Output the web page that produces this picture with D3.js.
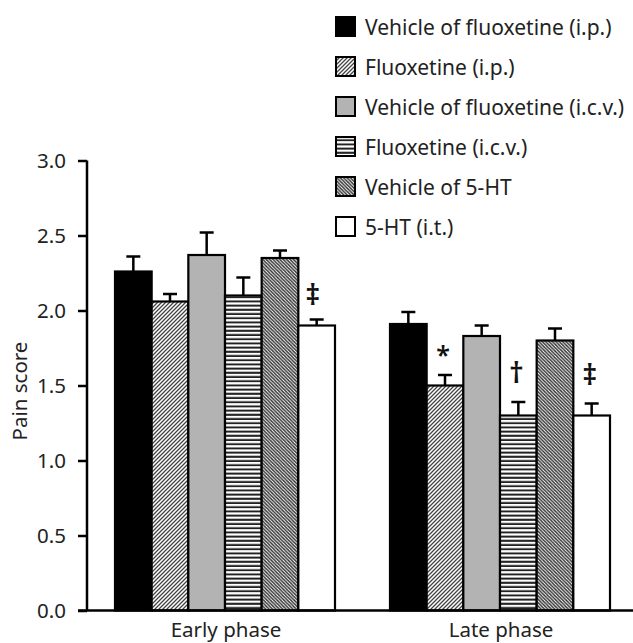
<!DOCTYPE html>
<html>
<head>
<meta charset="utf-8">
<script src="https://cdn.jsdelivr.net/npm/d3@7"></script>
<style>
  html, body { margin: 0; padding: 0; background: #fff; }
  svg { display: block; font-family: "Noto Sans", "Open Sans", sans-serif; }
</style>
</head>
<body>
<svg id="chart" width="633" height="643"></svg>
<script>
// Pain score by phase and treatment group
const phases = ["Early phase", "Late phase"];
const groups = [
  "Vehicle of fluoxetine (i.p.)",
  "Fluoxetine (i.p.)",
  "Vehicle of fluoxetine (i.c.v.)",
  "Fluoxetine (i.c.v.)",
  "Vehicle of 5-HT",
  "5-HT (i.t.)"
];
const earlyMeans = [2.26, 2.06, 2.37, 2.10, 2.35, 1.90];
const earlyErr   = [0.10, 0.05, 0.15, 0.12, 0.05, 0.04];
const lateMeans  = [1.91, 1.50, 1.83, 1.30, 1.80, 1.30];
const lateErr    = [0.08, 0.07, 0.07, 0.09, 0.08, 0.08];
const earlyMarks = ["", "", "", "", "", "‡"];
const lateMarks  = ["", "*", "", "†", "", "‡"];
const yTicks = [0, 0.5, 1.0, 1.5, 2.0, 2.5, 3.0];

const svg = d3.select("#chart");
const defs = svg.append("defs");
const FS = 20.5;
const TXT = "#222";

// fill patterns
function diagPattern(id, size, dir, color, w) {
  const p = defs.append("pattern").attr("id", id)
    .attr("patternUnits", "userSpaceOnUse")
    .attr("width", size).attr("height", size);
  p.append("rect").attr("width", size).attr("height", size).attr("fill", "#fff");
  const d = dir > 0
    ? `M0,${size} L${size},0 M${-size/2},${size/2} L${size/2},${-size/2} M${size/2},${size*1.5} L${size*1.5},${size/2}`
    : `M0,0 L${size},${size} M${-size/2},${size/2} L${size/2},${size*1.5} M${size/2},${-size/2} L${size*1.5},${size/2}`;
  p.append("path").attr("d", d).attr("stroke", color).attr("stroke-width", w);
}
diagPattern("hatchUp", 4, 1, "#444", 1.3);
diagPattern("hatchDown", 3.4, -1, "#333", 1.4);
const hp = defs.append("pattern").attr("id", "hlines")
  .attr("patternUnits", "userSpaceOnUse").attr("width", 8).attr("height", 4.2);
hp.append("rect").attr("width", 8).attr("height", 4.2).attr("fill", "#fff");
hp.append("rect").attr("y", 2.2).attr("width", 8).attr("height", 2).attr("fill", "#222");

const fills = ["#000", "url(#hatchUp)", "#b3b3b3", "url(#hlines)", "url(#hatchDown)", "#fff"];

const plot = { left: 87, right: 633, top: 160.5, bottom: 610.5 };

const y = d3.scaleLinear().domain([0, 3]).range([plot.bottom, plot.top]);
const xPhase = d3.scaleOrdinal().domain(phases).range([115, 390]);
const x = d3.scaleBand().domain(groups).range([0, 220]).paddingInner(0).paddingOuter(0);

const data = [];
phases.forEach((ph, pi) => {
  const means = pi === 0 ? earlyMeans : lateMeans;
  const errs = pi === 0 ? earlyErr : lateErr;
  const marks = pi === 0 ? earlyMarks : lateMarks;
  groups.forEach((g, gi) => data.push({ ph, g, gi, v: means[gi], e: errs[gi], m: marks[gi] }));
});
const cx = d => xPhase(d.ph) + x(d.g) + x.bandwidth() / 2;

const bars = svg.append("g");
// error bars (upper only) drawn first, bars on top
bars.selectAll("g.err").data(data).join("g").attr("class", "err")
  .each(function (d) {
    const g = d3.select(this);
    g.append("line").attr("x1", cx(d)).attr("x2", cx(d))
      .attr("y1", y(d.v)).attr("y2", y(d.v + d.e))
      .attr("stroke", "#000").attr("stroke-width", 2.5);
    g.append("line").attr("x1", cx(d) - 7).attr("x2", cx(d) + 7)
      .attr("y1", y(d.v + d.e)).attr("y2", y(d.v + d.e))
      .attr("stroke", "#000").attr("stroke-width", 2.5);
  });

bars.selectAll("rect.bar").data(data).join("rect").attr("class", "bar")
  .attr("x", d => xPhase(d.ph) + x(d.g))
  .attr("y", d => y(d.v))
  .attr("width", x.bandwidth())
  .attr("height", d => y(0) - y(d.v))
  .attr("fill", d => fills[d.gi])
  .attr("stroke", "#000").attr("stroke-width", 2.2);

// significance marks above the error caps
svg.append("g").selectAll("text").data(data.filter(d => d.m)).join("text")
  .attr("x", d => cx(d) - (d.ph === phases[0] ? 4 : 2))
  .attr("y", d => y(d.v + d.e) - (d.m === "*" ? 11 : (d.ph === phases[0] ? 15 : 19)))
  .attr("text-anchor", "middle")
  .attr("font-size", d => d.m === "*" ? 25 : 29)
  .attr("font-weight", 600)
  .attr("fill", "#111")
  .text(d => d.m);

// axes
const yAxis = d3.axisLeft(y).tickValues(yTicks).tickFormat(d3.format(".1f")).tickSize(9).tickPadding(12);
const ya = svg.append("g").attr("transform", `translate(${plot.left},0)`).call(yAxis);
ya.select(".domain").attr("stroke-width", 2.5).attr("d", `M0,${plot.top}V${plot.bottom}`);
ya.selectAll(".tick line").attr("stroke-width", 2.5);
ya.selectAll(".tick text").attr("font-size", FS).attr("fill", TXT)
  .attr("font-family", "Noto Sans, sans-serif");

svg.append("line").attr("x1", 78).attr("x2", 633)
  .attr("y1", plot.bottom).attr("y2", plot.bottom)
  .attr("stroke", "#000").attr("stroke-width", 2.5);

svg.append("g").selectAll("text").data(phases).join("text")
  .attr("x", d => xPhase(d) + 111)
  .attr("y", 637)
  .attr("text-anchor", "middle")
  .attr("font-size", FS).attr("fill", TXT)
  .text(d => d);

svg.append("text")
  .attr("transform", `translate(27,${391}) rotate(-90)`)
  .attr("text-anchor", "middle").attr("font-size", FS).attr("fill", TXT)
  .text("Pain score");

// legend
const legend = svg.append("g").attr("transform", "translate(336,17)");
const lg = legend.selectAll("g").data(groups).join("g")
  .attr("transform", (d, i) => `translate(0,${i * 40})`);
lg.append("rect").attr("x", 0).attr("y", 0).attr("width", 19).attr("height", 19)
  .attr("fill", (d, i) => fills[i]).attr("stroke", "#000").attr("stroke-width", 2);
lg.append("text").attr("x", 29).attr("y", 17.5)
  .attr("font-size", 21).attr("fill", TXT).text(d => d);
</script>
</body>
</html>
